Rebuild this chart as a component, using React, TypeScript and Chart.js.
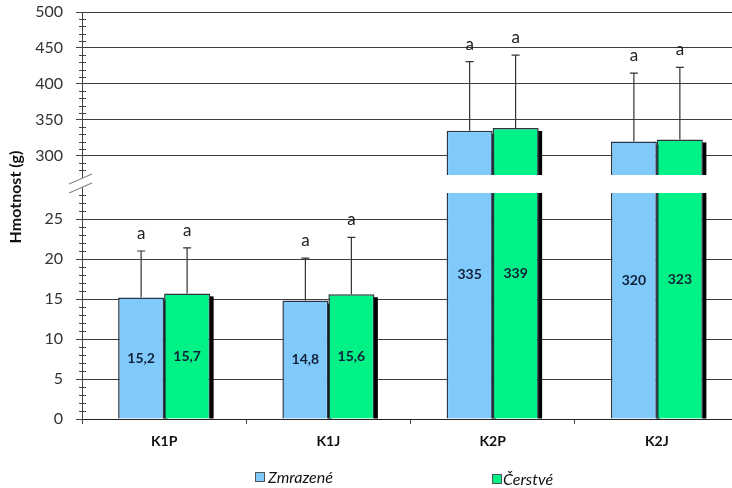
import React, { useEffect, useRef } from 'react';
import { Chart, registerables } from 'chart.js';

Chart.register(...registerables);

// ---------- data ----------
const categories = ['K1P', 'K1J', 'K2P', 'K2J'];
const seriesNames = ['Zmrazené', 'Čerstvé'];
const zmrazene = [15.2, 14.8, 335, 320];
const cerstve = [15.7, 15.6, 339, 323];
const errZmrazene = [5.8, 5.3, 96, 95];
const errCerstve = [5.7, 7.1, 101, 100];
const lettersZmrazene = ['a', 'a', 'a', 'a'];
const lettersCerstve = ['a', 'a', 'a', 'a'];
const lowerTicks = [0, 5, 10, 15, 20, 25];
const upperTicks = [300, 350, 400, 450, 500];

// axis break configuration
const LOWER_MIN = 0;
const LOWER_MAX = 30.5;
const LOWER_BAR_CAP = 28.25;
const UPPER_MIN = 273.6;
const UPPER_MAX = 500;
const LOWER_MINOR_STEP = 1;
const LOWER_MINOR_MAX = 28;
const UPPER_MINOR_STEP = 10;
const UPPER_MINOR_MIN = 280;

// ---------- styles ----------
const BLUE = '#80c9fb';
const GREEN = '#00f185';
const BAR_BORDER = '#2a3644';
const GRID = '#3d3d3d';
const FONT = 'Lato, "Open Sans", sans-serif';

const fmt = (v: number) => String(v).replace('.', ',');

const decorPlugin = {
  id: 'decor',
  beforeDatasetsDraw(chart: any) {
    const ctx = chart.ctx;
    ctx.save();
    ctx.fillStyle = '#000';
    chart.data.datasets.forEach((ds: any, di: number) => {
      const meta = chart.getDatasetMeta(di);
      meta.data.forEach((el: any, i: number) => {
        const raw = ds.data[i];
        if (raw == null) return;
        const { x, y, base, width } = el.getProps(['x', 'y', 'base', 'width'], true);
        const top = Math.min(y, base);
        const h = Math.abs(base - y);
        const clipped = ds.yAxisID === 'yLow' && raw[1] === LOWER_BAR_CAP;
        const off = clipped ? 0 : 3;
        ctx.fillRect(x + width / 2 - 0.5, top + off, 4, h - off);
      });
    });
    ctx.restore();
  },
  afterDatasetsDraw(chart: any) {
    const ctx = chart.ctx;
    const low = chart.scales.yLow;
    const high = chart.scales.yHigh;
    const series = [
      { vals: zmrazene, errs: errZmrazene, letters: lettersZmrazene, lowIdx: 0, highIdx: 2 },
      { vals: cerstve, errs: errCerstve, letters: lettersCerstve, lowIdx: 1, highIdx: 3 },
    ];
    ctx.save();
    series.forEach((s) => {
      s.vals.forEach((v, i) => {
        const isHigh = v > UPPER_MIN;
        const scale = isHigh ? high : low;
        const el = chart.getDatasetMeta(isHigh ? s.highIdx : s.lowIdx).data[i];
        const x = el.x;
        const yBar = scale.getPixelForValue(v);
        const yTop = scale.getPixelForValue(v + s.errs[i]);
        // error bar
        ctx.strokeStyle = '#333';
        ctx.lineWidth = 1.2;
        ctx.beginPath();
        ctx.moveTo(x, yBar);
        ctx.lineTo(x, yTop);
        ctx.moveTo(x - 4, yTop);
        ctx.lineTo(x + 4, yTop);
        ctx.stroke();
        // letter
        ctx.fillStyle = '#222';
        ctx.font = `17px ${FONT}`;
        ctx.textAlign = 'center';
        ctx.textBaseline = 'alphabetic';
        ctx.fillText(s.letters[i], x, yTop - 12);
        // value label
        const yMid = (yBar + low.getPixelForValue(0)) / 2;
        ctx.fillStyle = '#13203a';
        ctx.font = `bold 14px ${FONT}`;
        ctx.textBaseline = 'middle';
        ctx.fillText(fmt(v), x, yMid);
      });
    });
    ctx.restore();
  },
  afterDraw(chart: any) {
    const ctx = chart.ctx;
    const low = chart.scales.yLow;
    const high = chart.scales.yHigh;
    const ax = chart.chartArea.left;
    ctx.save();
    // minor ticks
    ctx.strokeStyle = '#444';
    ctx.lineWidth = 1;
    ctx.beginPath();
    for (let v = LOWER_MIN + LOWER_MINOR_STEP; v <= LOWER_MINOR_MAX; v += LOWER_MINOR_STEP) {
      if (v % 5 === 0) continue;
      const y = Math.round(low.getPixelForValue(v)) + 0.5;
      ctx.moveTo(ax - 3, y);
      ctx.lineTo(ax + 4, y);
    }
    for (let v = UPPER_MINOR_MIN; v < UPPER_MAX; v += UPPER_MINOR_STEP) {
      if (v % 50 === 0) continue;
      const y = Math.round(high.getPixelForValue(v)) + 0.5;
      ctx.moveTo(ax - 3, y);
      ctx.lineTo(ax + 4, y);
    }
    ctx.stroke();
    // axis break marks
    const yb = low.getPixelForValue(LOWER_MAX) + 8;
    ctx.fillStyle = '#fff';
    ctx.beginPath();
    ctx.moveTo(ax - 13, yb + 1);
    ctx.lineTo(ax + 10, yb - 9);
    ctx.lineTo(ax + 10, yb);
    ctx.lineTo(ax - 13, yb + 10);
    ctx.closePath();
    ctx.fill();
    ctx.strokeStyle = '#888';
    ctx.lineWidth = 1.2;
    ctx.beginPath();
    ctx.moveTo(ax - 13, yb + 1);
    ctx.lineTo(ax + 10, yb - 9);
    ctx.moveTo(ax - 13, yb + 10);
    ctx.lineTo(ax + 10, yb);
    ctx.stroke();
    // y axis title
    ctx.translate(15.5, 197);
    ctx.rotate(-Math.PI / 2);
    ctx.fillStyle = '#111';
    ctx.font = `bold 16px ${FONT}`;
    ctx.textAlign = 'center';
    ctx.textBaseline = 'middle';
    ctx.fillText('Hmotnost (g)', 0, 0);
    ctx.restore();
  },
};

export default function App() {
  const ref = useRef<HTMLCanvasElement>(null);

  useEffect(() => {
    const canvas = ref.current;
    if (!canvas) return;
    const lowerData = (vals: number[]) => vals.map((v) => [LOWER_MIN, Math.min(v, LOWER_BAR_CAP)]);
    const upperData = (vals: number[]) => vals.map((v) => (v > UPPER_MIN ? [UPPER_MIN, v] : null));
    const lowBorder = (vals: number[]) => (c: any) =>
      vals[c.dataIndex] > LOWER_BAR_CAP ? { top: 0, bottom: 0, left: 1.5, right: 1.5 } : 1.5;

    const common = {
      borderColor: BAR_BORDER,
      categoryPercentage: 0.56,
      barPercentage: 1,
    };

    const yTicks = {
      color: '#333',
      padding: 13,
      font: { family: FONT, size: 16 },
    };
    const yGrid = {
      color: GRID,
      lineWidth: 1,
      tickLength: 6,
      tickColor: '#444',
    };
    const fitY = (s: any) => {
      s.width = 82;
      s.paddingTop = 0;
      s.paddingBottom = 0;
    };

    const chart = new Chart(canvas, {
      type: 'bar',
      data: {
        labels: categories,
        datasets: [
          { ...common, label: seriesNames[0], data: lowerData(zmrazene) as any, yAxisID: 'yLow', stack: 'Z', backgroundColor: BLUE, borderWidth: lowBorder(zmrazene) as any },
          { ...common, label: seriesNames[1], data: lowerData(cerstve) as any, yAxisID: 'yLow', stack: 'C', backgroundColor: GREEN, borderWidth: lowBorder(cerstve) as any },
          { ...common, label: seriesNames[0], data: upperData(zmrazene) as any, yAxisID: 'yHigh', stack: 'Z', backgroundColor: BLUE, borderWidth: 1.5 },
          { ...common, label: seriesNames[1], data: upperData(cerstve) as any, yAxisID: 'yHigh', stack: 'C', backgroundColor: GREEN, borderWidth: 1.5 },
        ],
      },
      options: {
        responsive: false,
        animation: false,
        layout: { padding: { top: 12, right: 21, left: 0, bottom: 0 } },
        plugins: { legend: { display: false }, tooltip: { enabled: false } },
        scales: {
          x: {
            grid: { display: true, drawOnChartArea: false, tickLength: 5, color: '#444' },
            border: { color: '#222', width: 1 },
            ticks: { color: '#111', padding: 9, font: { family: FONT, size: 14, weight: 'bold' } },
            afterFit: (s: any) => {
              s.height = 69;
              s.paddingLeft = 0;
              s.paddingRight = 0;
            },
          },
          yLow: {
            type: 'linear',
            position: 'left',
            stack: 'v',
            stackWeight: 244,
            min: LOWER_MIN,
            max: LOWER_MAX,
            grid: yGrid,
            border: { color: '#444', width: 1 },
            ticks: yTicks,
            afterBuildTicks: (s: any) => { s.ticks = lowerTicks.map((v) => ({ value: v })); },
            afterFit: fitY,
          },
          yHigh: {
            type: 'linear',
            position: 'left',
            stack: 'v',
            stackWeight: 163,
            min: UPPER_MIN,
            max: UPPER_MAX,
            grid: yGrid,
            border: { color: '#444', width: 1 },
            ticks: yTicks,
            afterBuildTicks: (s: any) => { s.ticks = upperTicks.map((v) => ({ value: v })); },
            afterFit: fitY,
          },
        } as any,
      },
      plugins: [decorPlugin],
    });
    return () => chart.destroy();
  }, []);

  const legendText: React.CSSProperties = {
    position: 'absolute',
    font: `italic 16px ${FONT}`,
    color: '#111',
    lineHeight: '20px',
    whiteSpace: 'nowrap',
  };
  const legendBox: React.CSSProperties = {
    position: 'absolute',
    width: 10,
    height: 10,
    border: '1px solid #555',
    boxSizing: 'border-box',
  };

  return (
    <div style={{ position: 'fixed', left: 0, top: 0, width: 732, height: 488, overflow: 'hidden', background: '#fff' }}>
      <canvas ref={ref} width={760} height={488} style={{ display: 'block' }} />
      <div style={{ ...legendBox, left: 255, top: 472, background: BLUE }} />
      <span style={{ ...legendText, left: 268, top: 467 }}>{seriesNames[0]}</span>
      <div style={{ ...legendBox, left: 492, top: 474, background: GREEN }} />
      <span style={{ ...legendText, left: 503, top: 469 }}>{seriesNames[1]}</span>
    </div>
  );
}
